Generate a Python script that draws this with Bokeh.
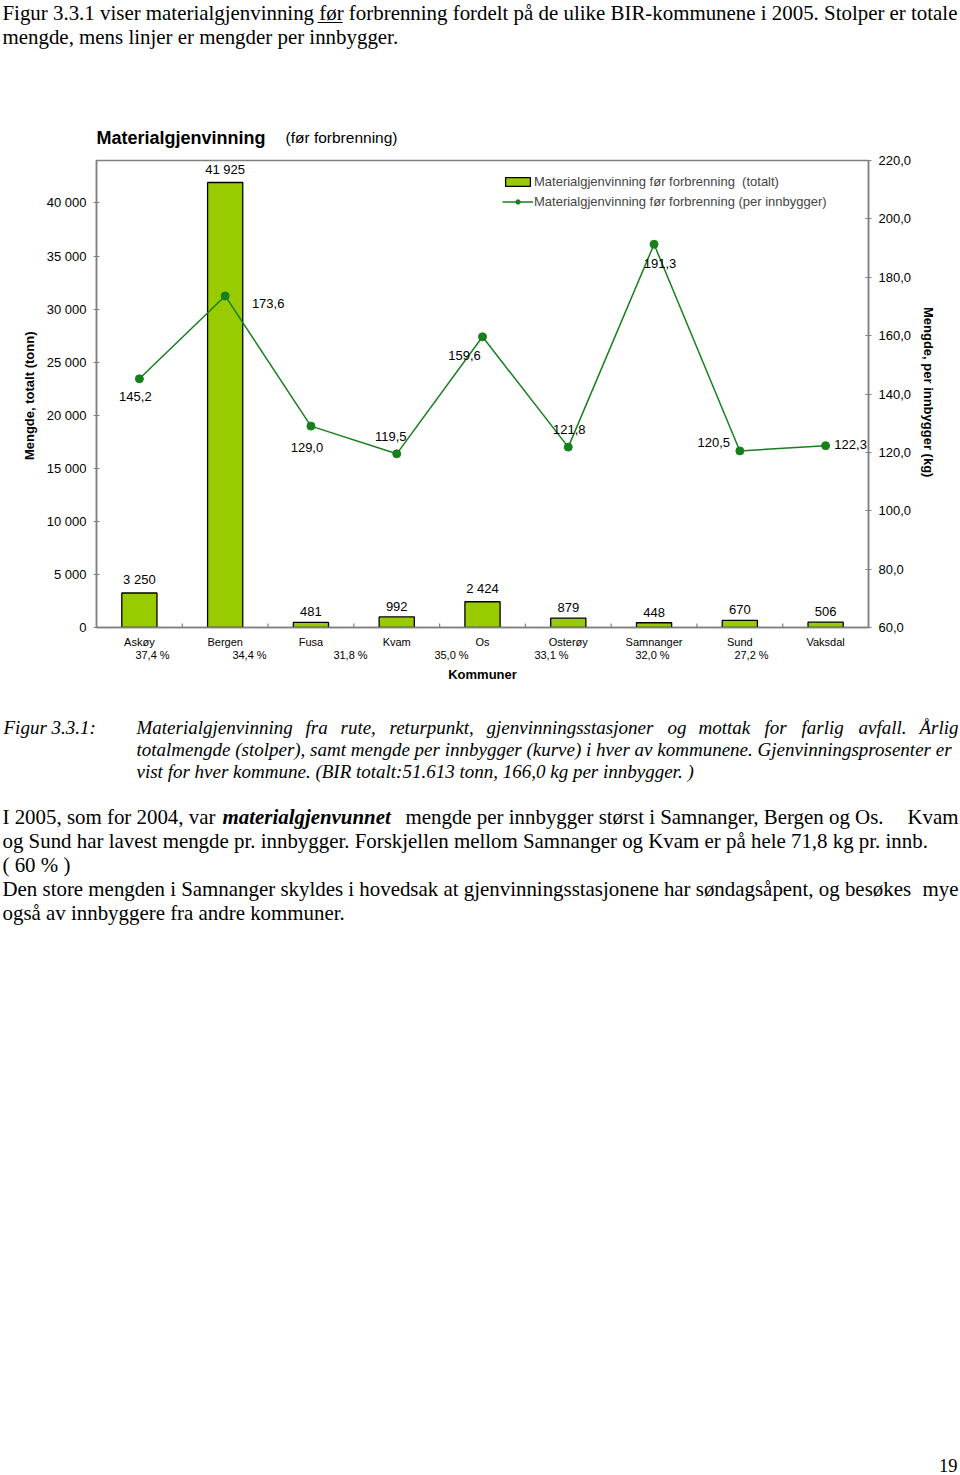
from bokeh.plotting import figure
from bokeh.layouts import column
from bokeh.models import (ColumnDataSource, FactorRange, Range1d, LinearAxis, CategoricalAxis,
                          FixedTicker, LabelSet, Legend, LegendItem, Whisker)
from bokeh.core.properties import value
from bokeh.embed import file_html
from bokeh.resources import INLINE

# ---------------- data ----------------
kommuner = ["Askøy", "Bergen", "Fusa", "Kvam", "Os", "Osterøy", "Samnanger", "Sund", "Vaksdal"]
totalt_tonn = [3250, 41925, 481, 992, 2424, 879, 448, 670, 506]
per_innbygger_kg = [145.2, 173.6, 129.0, 119.5, 159.6, 121.8, 191.3, 120.5, 122.3]
prosent = ["37,4 %", "34,4 %", "31,8 %", "35,0 %", "33,1 %", "32,0 %", "27,2 %"]
left_ticks = [0, 5000, 10000, 15000, 20000, 25000, 30000, 35000, 40000]
right_ticks = [60, 80, 100, 120, 140, 160, 180, 200, 220]

intro_lines = [
    "Figur 3.3.1 viser materialgjenvinning før forbrenning fordelt på de ulike BIR-kommunene i 2005. Stolper er totale",
    "mengde, mens linjer er mengder per innbygger.",
]
caption_head = "Figur 3.3.1:"
caption_lines = [
    "Materialgjenvinning fra rute, returpunkt, gjenvinningsstasjoner og mottak for farlig avfall. Årlig",
    "totalmengde (stolper), samt mengde per innbygger (kurve) i hver av kommunene. Gjenvinningsprosenter er",
    "vist for hver kommune. (BIR totalt:51.613 tonn, 166,0 kg per innbygger. )",
]
body_first = ["I 2005, som for 2004, var", "materialgjenvunnet",
              "mengde per innbygger størst i Samnanger, Bergen og Os.", "Kvam"]
body_lines = [
    "og Sund har lavest mengde pr. innbygger. Forskjellen mellom Samnanger og Kvam er på hele 71,8 kg pr. innb.",
    "( 60 % )",
    "Den store mengden i Samnanger skyldes i hovedsak at gjenvinningsstasjonene har søndagsåpent, og besøkes",
    "også av innbyggere fra andre kommuner.",
]
body_line4_end = "mye"

# ---------------- layout / style ----------------
W, H = 960, 1475
TOP_H = 150            # page strip above the chart
CHART_BOTTOM = 650     # page y where the chart strip ends
FL, FR, FT, FB = 96, 868, 160, 627   # chart frame in page pixels
YMAX = 44000
SANS = "Liberation Sans"
SERIF = "Liberation Serif"
BODY = "20.9px"
GREEN = "#17801c"
BAR = "#99CC00"
AX = "#808080"

per_dx = [-4, 43, -4, -6, -18, 1, 6, -26, 25]
per_dy = [-18, -8, -21, 17, -19, 18, -19, 8, 1]
prosent_x = [152, 249, 350, 451, 551, 652, 751]
# word starts of the justified first caption line (page px); last word is right-aligned
caption1_x = [136, 305, 340, 389, 486, 667, 698, 764, 801, 858, 958]


def nb_int(v):
    return f"{v:,}".replace(",", " ")


def nb_dec(v):
    return f"{v:.1f}".replace(".", ",")


def text_strip(y0, y1):
    """A figure whose frame covers page rows y0..y1, in page pixel coordinates."""
    f = figure(width=W, height=y1 - y0, x_range=Range1d(0, W), y_range=Range1d(y1, y0),
               output_backend="svg", toolbar_location=None,
               x_axis_location=None, y_axis_location=None, frame_align=False,
               min_border=0, min_border_left=0, min_border_right=0,
               min_border_top=0, min_border_bottom=0)
    for g in f.grid:
        g.visible = False
    f.outline_line_color = None
    f.background_fill_color = "white"
    f.border_fill_color = "white"
    return f


def put(f, xs, ys, texts, font=SERIF, size=BODY, style="normal", align="left"):
    f.text(x=xs, y=ys, text=texts, text_font=value(font), text_font_size=size,
           text_font_style=style, text_align=align, text_baseline="middle", text_color="black")


# ---------------- top strip ----------------
top = text_strip(0, TOP_H)
put(top, [2, 2], [12, 36], intro_lines)
top.segment(x0=[317], y0=[22], x1=[342], y1=[22], line_color="black", line_width=1)
put(top, [96], [137], ["Materialgjenvinning"], font=SANS, size="18px", style="bold")
put(top, [285], [137], ["(før forbrenning)"], font=SANS, size="15.5px")

# ---------------- chart ----------------
src = ColumnDataSource(dict(
    kommune=kommuner,
    totalt=totalt_tonn,
    totalt_lbl=[nb_int(v) for v in totalt_tonn],
    per=per_innbygger_kg,
    per_lbl=[nb_dec(v) for v in per_innbygger_kg],
    dx=per_dx,
    dy=per_dy,
))

p = figure(width=W, height=CHART_BOTTOM - TOP_H, x_range=FactorRange(*kommuner),
           y_range=Range1d(0, YMAX), output_backend="svg", toolbar_location=None,
           x_axis_location=None, y_axis_location=None, frame_align=False,
           min_border_left=FL, min_border_right=W - FR,
           min_border_top=FT - TOP_H, min_border_bottom=CHART_BOTTOM - FB)
p.extra_y_ranges = {"per": Range1d(60, 220)}
for g in p.grid:
    g.visible = False
p.outline_line_color = AX
p.outline_line_width = 1.5
p.background_fill_color = "white"
p.border_fill_color = "white"

axis_style = dict(axis_line_color=AX, axis_line_width=1.5,
                  major_tick_line_color=AX, major_tick_in=3, major_tick_out=3,
                  minor_tick_line_color=None,
                  major_label_standoff=7, axis_label_standoff=7,
                  major_label_text_font=SANS, major_label_text_font_size="13px",
                  major_label_text_color="black",
                  axis_label_text_font=SANS, axis_label_text_font_size="13px",
                  axis_label_text_font_style="bold", axis_label_text_color="black")

lax = LinearAxis(ticker=FixedTicker(ticks=left_ticks),
                 major_label_overrides={t: nb_int(t) for t in left_ticks},
                 axis_label="Mengde, totalt  (tonn)", **axis_style)
p.add_layout(lax, "left")

rax = LinearAxis(y_range_name="per", ticker=FixedTicker(ticks=right_ticks),
                 major_label_overrides={t: nb_dec(t) for t in right_ticks},
                 axis_label="Mengde, per innbygger  (kg)", **axis_style)
p.add_layout(rax, "right")

cax = CategoricalAxis(axis_line_color=AX, axis_line_width=1.5, major_tick_line_color=None,
                      major_tick_out=0, major_tick_in=0, major_label_standoff=8,
                      major_label_text_font=SANS, major_label_text_font_size="11px",
                      major_label_text_color="black")
p.add_layout(cax, "below")

px_per_unit = (FB - FT) / YMAX
bsrc = ColumnDataSource(dict(
    base=[[k, 0.5] for k in kommuner[:-1]],
    lower=[-3 / px_per_unit] * (len(kommuner) - 1),
    upper=[4 / px_per_unit] * (len(kommuner) - 1),
))
p.add_layout(Whisker(base="base", lower="lower", upper="upper", source=bsrc, dimension="height",
                     line_color=AX, line_width=1.2, lower_head=None, upper_head=None))

bars = p.vbar(x="kommune", top="totalt", width=0.41, source=src,
              fill_color=BAR, line_color="black", line_width=1.3)
line = p.line(x="kommune", y="per", y_range_name="per", source=src,
              line_color=GREEN, line_width=1.5)
dots = p.scatter(x="kommune", y="per", y_range_name="per", source=src, size=8,
                 fill_color=GREEN, line_color=GREEN)

p.add_layout(LabelSet(x="kommune", y="totalt", text="totalt_lbl", source=src,
                      text_align="center", text_baseline="bottom", y_offset=6,
                      text_font=value(SANS), text_font_size="13px", text_color="black"))
p.add_layout(LabelSet(x="kommune", y="per", y_range_name="per", text="per_lbl", source=src,
                      x_offset="dx", y_offset="dy",
                      text_align="center", text_baseline="middle",
                      text_font=value(SANS), text_font_size="13px", text_color="black"))

legend = Legend(items=[
    LegendItem(label="Materialgjenvinning før forbrenning  (totalt)", renderers=[bars]),
    LegendItem(label="Materialgjenvinning før forbrenning (per innbygger)", renderers=[line, dots]),
], location=(406, 416), border_line_color=None, background_fill_alpha=0,
    label_text_font=SANS, label_text_font_size="13px", label_standoff=1,
    glyph_width=31, glyph_height=11, label_height=20, spacing=0, padding=0, margin=0)
p.add_layout(legend, "center")

# ---------------- bottom strip ----------------
bot = text_strip(CHART_BOTTOM, H)
put(bot, prosent_x, [654] * len(prosent), prosent, font=SANS, size="11px", align="center")
put(bot, [482], [674], ["Kommuner"], font=SANS, size="13px", style="bold", align="center")
put(bot, [3], [727], [caption_head], size="19px", style="italic")
cap1_words = caption_lines[0].split(" ")
put(bot, caption1_x[:-1], [727] * (len(cap1_words) - 1), cap1_words[:-1], size="19px", style="italic")
put(bot, caption1_x[-1:], [727], cap1_words[-1:], size="19px", style="italic", align="right")
put(bot, [136, 136], [749, 771], caption_lines[1:], size="19px", style="italic")
put(bot, [2], [816], [body_first[0]])
put(bot, [222], [816], [body_first[1]], style="bold italic")
put(bot, [405], [816], [body_first[2]])
put(bot, [958], [816], [body_first[3]], align="right")
put(bot, [2, 2, 2, 2], [840, 864, 888, 912], body_lines)
put(bot, [958], [888], [body_line4_end], align="right")
put(bot, [957], [1465], ["19"], size="18.5px", align="right")

layout = column(top, p, bot, spacing=0)
open("out.html", "w").write(file_html(layout, INLINE))
